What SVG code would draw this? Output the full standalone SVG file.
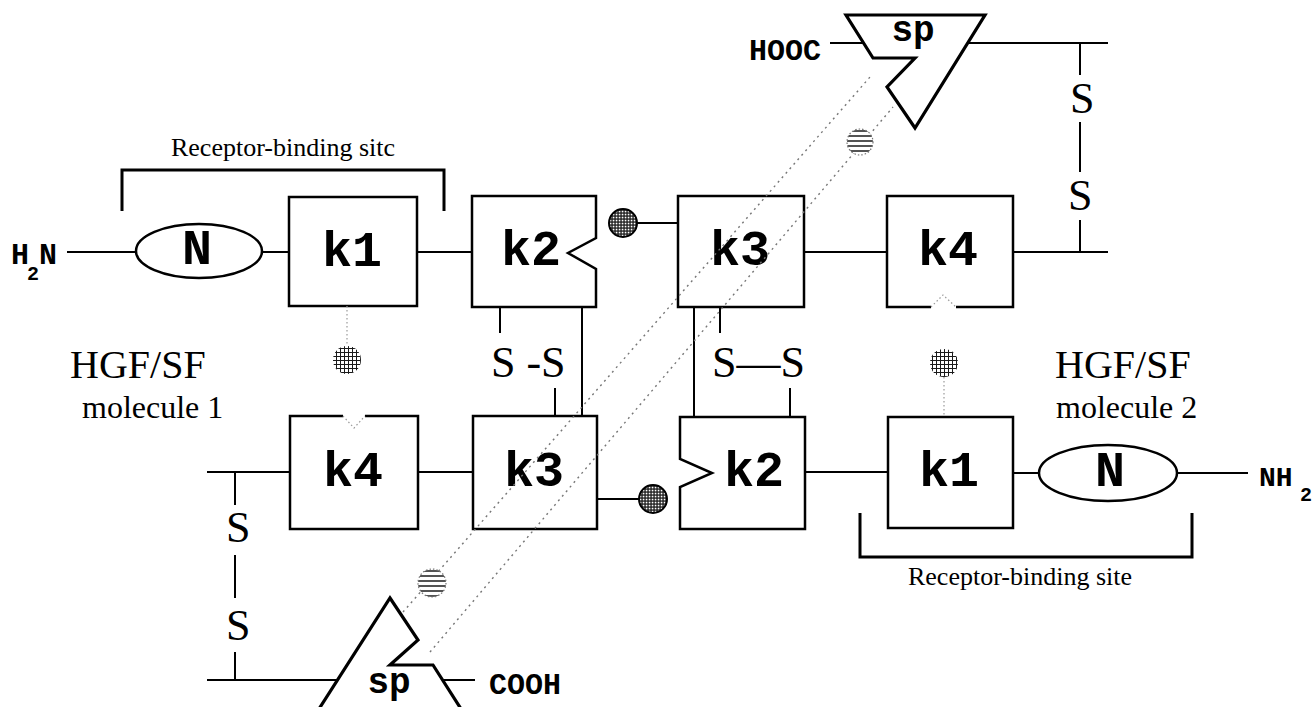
<svg xmlns="http://www.w3.org/2000/svg" width="1312" height="707" viewBox="0 0 1312 707">
<defs>
<pattern id="stip" width="3" height="3" patternUnits="userSpaceOnUse"><rect width="3" height="3" fill="#1a1a1a"/><rect x="0.7" y="0.7" width="1.7" height="1.7" fill="#fff"/></pattern>
<pattern id="grid" width="4" height="4" patternUnits="userSpaceOnUse"><rect width="4" height="4" fill="#fff"/><path d="M0 0.5H4M0.5 0V4" stroke="#1a1a1a" stroke-width="1"/></pattern>
<pattern id="hstripe" width="6" height="5" patternUnits="userSpaceOnUse"><rect width="6" height="5" fill="#fff"/><path d="M0 1H6" stroke="#1a1a1a" stroke-width="1.5"/></pattern>
</defs>
<style>
.ln{stroke:#000;stroke-width:2;fill:none}
.br{stroke:#000;stroke-width:3;fill:none}
.box{stroke:#000;stroke-width:2.5;fill:#fff}
.tri{stroke:#000;stroke-width:3.2;fill:#fff;stroke-linejoin:miter}
.dot{stroke:#777;stroke-width:1.4;stroke-dasharray:2 4;fill:none}
.fdot{stroke:#999;stroke-width:1.2;stroke-dasharray:1.5 2.5;fill:none}
.klab{font-family:"Liberation Mono",monospace;font-weight:bold;font-size:50px;text-anchor:middle;fill:#000}
.mono{font-family:"Liberation Mono",monospace;font-weight:bold;fill:#000}
.ser{font-family:"Liberation Serif",serif;fill:#000}
.ss{font-family:"Liberation Serif",serif;font-size:44px;fill:#000}
</style>

<g id="connectors">
<path class="ln" d="M67 252H136M262 252H289M417 252H472M637 223H678M804 252H887M1013 252H1108"/>
<path class="ln" d="M1080 252V220M1080 172V122M1080 75V43M830 43H864M968 43H1108"/>
<path class="ln" d="M500 307V333M555 388V416M582 307V416M720 307V333M790 388V417M694 307V417"/>
<path class="ln" d="M207 472H290M418 472H473M597 499H639M805 472H888M1013 473H1039M1178 473H1248"/>
<path class="ln" d="M235 473V505M235 555V598M235 652V680M207 680H337M443 680H475"/>
<path class="br" d="M122 211V170H444V211"/>
<path class="br" d="M860 513V557H1192V513"/>
</g>

<g id="m1-N"><ellipse class="box" cx="199" cy="251" rx="63" ry="27"/><text class="klab" x="197" y="264" font-size="46">N</text></g>
<g id="m1-k1"><rect class="box" x="289" y="197" width="128" height="109"/><text class="klab" x="352" y="266">k1</text></g>
<g id="m1-k2"><path class="box" d="M472 196H596V238L568 253L596 269V307H472Z"/><text class="klab" x="531" y="265">k2</text></g>
<g id="m1-k3"><rect class="box" x="678" y="196" width="126" height="111"/><text class="klab" x="740" y="265">k3</text></g>
<g id="m1-k4"><path class="box" d="M931 307H887V196H1013V307H956"/><path class="fdot" d="M931 307L943 295L956 307"/><text class="klab" x="948" y="265">k4</text></g>
<g id="m1-sp"><polygon class="tri" points="846,15 985,15 915,128 887,87 915,58 873,58"/><text class="mono" x="913" y="41" font-size="36" text-anchor="middle">sp</text></g>

<g id="m2-k4"><path class="box" d="M343 416H290V529H418V416H365"/><path class="fdot" d="M343 416L354 428L365 416"/><text class="klab" x="353" y="486">k4</text></g>
<g id="m2-k3"><rect class="box" x="473" y="416" width="124" height="113"/><text class="klab" x="534" y="486">k3</text></g>
<g id="m2-k2"><path class="box" d="M680 417H805V529H680V487L712 473L680 459Z"/><text class="klab" x="754" y="486">k2</text></g>
<g id="m2-k1"><rect class="box" x="888" y="417" width="125" height="111"/><text class="klab" x="949" y="486">k1</text></g>
<g id="m2-N"><ellipse class="box" cx="1108" cy="473" rx="69" ry="28"/><text class="klab" x="1110" y="486" font-size="46">N</text></g>
<g id="m2-sp"><polygon class="tri" points="390,598 418,640 390,665 433,665 470,723 310,723"/><text class="mono" x="389" y="693" font-size="36" text-anchor="middle">sp</text></g>

<g id="balls">
<circle cx="623" cy="223" r="14" fill="url(#stip)" stroke="#000" stroke-width="2"/>
<circle cx="653" cy="499" r="14" fill="url(#stip)" stroke="#000" stroke-width="2"/>
<circle cx="347" cy="360" r="14" fill="url(#grid)"/>
<circle cx="944" cy="363" r="14" fill="url(#grid)"/>
</g>

<g id="dotted">
<path class="fdot" d="M347 306V346M944 377V417"/>
<path class="dot" d="M403 612L870 77"/>
<path class="dot" d="M430 652L893 107"/>
<circle cx="860" cy="142" r="13" fill="url(#hstripe)" stroke="#777" stroke-width="1.2" stroke-dasharray="1.5 2"/>
<circle cx="432" cy="583" r="14" fill="url(#hstripe)" stroke="#777" stroke-width="1.2" stroke-dasharray="1.5 2"/>
</g>

<g id="labels">
<text class="mono" font-size="30" x="11" y="264">H</text>
<text class="mono" font-size="20" x="27" y="280">2</text>
<text class="mono" font-size="30" x="39" y="264">N</text>
<text class="mono" font-size="28" x="1259" y="486">NH</text>
<text class="mono" font-size="20" x="1300" y="501">2</text>
<text class="mono" font-size="30" x="749" y="60">HOOC</text>
<text class="mono" font-size="30" x="489" y="694">COOH</text>
<text class="ser" font-size="26" x="283" y="156" text-anchor="middle">Receptor-binding sitc</text>
<text class="ser" font-size="26" x="1020" y="585" text-anchor="middle">Receptor-binding site</text>
<text class="ser" font-size="40" x="70" y="378">HGF/SF</text>
<text class="ser" font-size="32" x="82" y="418">molecule 1</text>
<text class="ser" font-size="40" x="1055" y="378">HGF/SF</text>
<text class="ser" font-size="32" x="1056" y="418">molecule 2</text>
<text class="ss" x="1070" y="113">S</text>
<text class="ss" x="1068" y="210">S</text>
<text class="ss" x="226" y="542">S</text>
<text class="ss" x="226" y="640">S</text>
<text class="ss" x="491" y="377">S -S</text>
<text class="ss" x="712" y="377">S—S</text>
</g>
</svg>
